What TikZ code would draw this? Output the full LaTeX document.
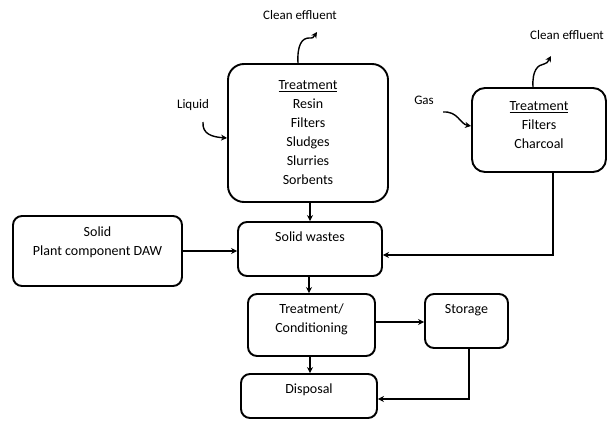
\documentclass[tikz,border=0pt]{standalone}
\usepackage{fontspec}
\setmainfont{Carlito}
\usetikzlibrary{arrows.meta}
\begin{document}
\begin{tikzpicture}[x=1pt,y=-1pt,
  box/.style={draw, line width=1.9pt, rounded corners=9pt, inner sep=0pt},
  bigbox/.style={box, rounded corners=16pt},
  txt/.style={align=center, font=\fontsize{14}{19}\selectfont, inner sep=0pt},
  lbl/.style={font=\fontsize{13}{15}\selectfont, inner sep=0pt},
  arr/.style={line width=1.4pt, -{Stealth[length=6pt,width=6pt]}},
  ln/.style={line width=1.4pt}]
\useasboundingbox (0,0) rectangle (609,420);
% boxes
\node[bigbox, minimum width=160pt, minimum height=138pt] (liq) at (308,133) {};
\node[txt] (liqt) at (308,133) {\underline{Treatment}\\Resin\\Filters\\Sludges\\Slurries\\Sorbents};
\node[box, rounded corners=13pt, minimum width=134pt, minimum height=84pt] (gas) at (539,130) {};
\node[txt] (gast) at (539,125.5) {\underline{Treatment}\\Filters\\Charcoal};
\node[box, minimum width=169pt, minimum height=70pt] (sol) at (97.5,251) {};
\node[txt] (solt) at (97.5,242.5) {Solid\\Plant component DAW};
\node[box, minimum width=144pt, minimum height=54pt] (sw) at (310,249) {};
\node[txt] (swt) at (310,237) {Solid wastes};
\node[box, minimum width=127pt, minimum height=62pt] (tc) at (311.5,325) {};
\node[txt] (tct) at (311.5,319) {Treatment/\\Conditioning};
\node[box, minimum width=83pt, minimum height=54pt] (st) at (466.5,321) {};
\node[txt] (stt) at (466.5,310) {Storage};
\node[box, minimum width=136pt, minimum height=44pt] (dis) at (309,396) {};
\node[txt] (dist) at (309,390) {Disposal};
% labels
\node[lbl] (ce1) at (300,15) {Clean effluent};
\node[lbl] (ce2) at (567,35) {Clean effluent};
\node[lbl] (lq) at (193,105) {Liquid};
\node[lbl] (gs) at (424,100) {Gas};
\coordinate (ce1e) at (317,32);
\coordinate (ce2e) at (551,56);
\coordinate (lqs) at (203,122);
\coordinate (gss) at (443,112);
% squiggle arrows
\draw[arr] (liq.north -| 298,0) .. controls (297,45) and (302,38) .. (309,38) .. controls (313,38) .. (ce1e);
\draw[arr] (gas.north -| 533,0) .. controls (532,70) and (538,65) .. (544,64) .. controls (547,63) .. (ce2e);
\draw[arr] (lqs) .. controls (202,134) and (212,137) .. (liq.west |- 0,138);
\draw[arr] (gss) .. controls (458,111) and (460,124) .. (gas.west |- 0,126);
% flow
\draw[arr] (liq.south -| sw.north) -- (sw.north);
\draw[arr] (sol.east) -- (sw.west |- sol.east);
\draw[ln, -{Stealth[length=6pt,width=6pt]}] (gas.south -| 553,0) |- (sw.east |- 0,255);
\draw[arr] (sw.south -| 309,0) -- (tc.north -| 309,0);
\draw[arr] (tc.east |- 0,322) -- (st.west |- 0,322);
\draw[arr] (tc.south -| 310,0) -- (dis.north -| 310,0);
\draw[ln, -{Stealth[length=6pt,width=6pt]}] (st.south -| 469,0) |- (dis.east |- 0,399);
\end{tikzpicture}
\end{document}
